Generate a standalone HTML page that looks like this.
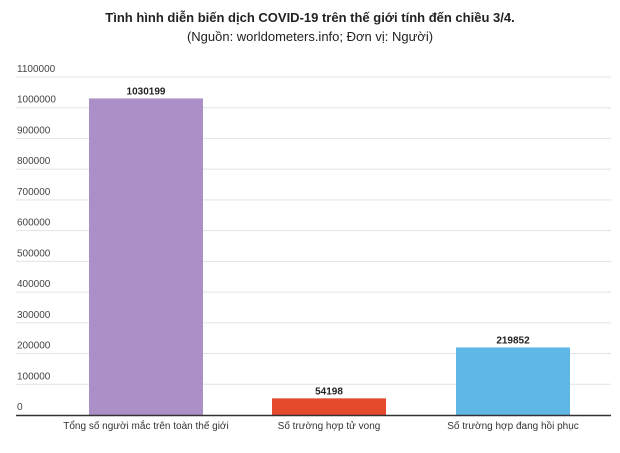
<!DOCTYPE html>
<html><head><meta charset="utf-8"><style>
body{margin:0;background:#fff;font-family:"Liberation Sans",sans-serif}
svg text{font-family:"Liberation Sans",sans-serif}
</style></head><body>
<svg width="620" height="448">
<text x="310" y="22" text-anchor="middle" font-size="13" font-weight="bold" fill="#222">Tình hình diễn biến dịch COVID-19 trên thế giới tính đến chiều 3/4.</text>
<text x="310" y="41" text-anchor="middle" font-size="13" fill="#222">(Nguồn: worldometers.info; Đơn vị: Người)</text>
<g id="grid"></g><g id="bars"></g>
<line x1="16" x2="611" y1="415.5" y2="415.5" stroke="#333" stroke-width="1.5"/>
</svg>
<script>
const categories=["Tổng số người mắc trên toàn thế giới","Số trường hợp tử vong","Số trường hợp đang hồi phục"];
const values=[1030199,54198,219852];
const colors=["#ab90c8","#e64a2c","#5fb7e5"];
const ticks=[0,100000,200000,300000,400000,500000,600000,700000,800000,900000,1000000,1100000];
const NS="http://www.w3.org/2000/svg";
const y=v=>415-v/100000*30.73;
const g=document.getElementById('grid'),b=document.getElementById('bars');
function mk(t,a,p){const e=document.createElementNS(NS,t);for(const k in a)e.setAttribute(k,a[k]);p.appendChild(e);return e;}
ticks.forEach(t=>{
 if(t>0){const l=mk('line',{x1:16,x2:611,y1:y(t),y2:y(t),stroke:'#e3e3e3'},g);
 
 }
 const tx=mk('text',{x:17,y:y(t)-5,'font-size':10,fill:'#444'},g);tx.textContent=t;
 
 
});
const cx=[146,329,513];
values.forEach((v,i)=>{
 const r=mk('rect',{x:cx[i]-57,y:y(v),width:114,height:415-y(v),fill:colors[i]},b);
 
 
 const vl=mk('text',{x:cx[i],y:y(v)-4,'text-anchor':'middle','font-size':10,'font-weight':'bold',fill:'#222'},b);vl.textContent=v;
 
 
 const cl=mk('text',{x:cx[i],y:429,'text-anchor':'middle','font-size':10,fill:'#333'},b);cl.textContent=categories[i];
 
 
});
</script>
</body></html>
